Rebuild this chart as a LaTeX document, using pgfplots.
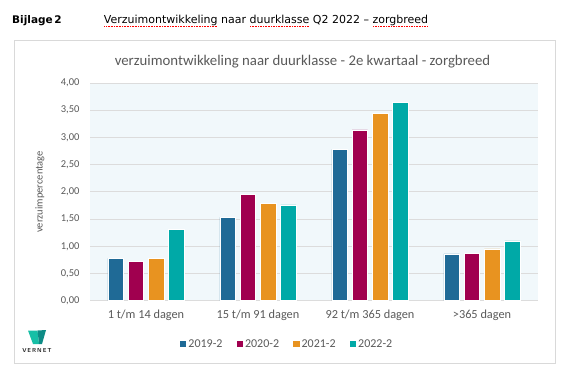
\documentclass[border=0pt]{standalone}
\usepackage{pgfplots}
\pgfplotsset{compat=1.18}
\usepackage{fontspec}
\setmainfont{Carlito}
\newfontfamily\verdana{DejaVu Sans}
\definecolor{cblue}{HTML}{1F6A96}
\definecolor{cpurple}{HTML}{A0004F}
\definecolor{corange}{HTML}{E89320}
\definecolor{cteal}{HTML}{00A9A7}
\definecolor{txtgray}{HTML}{595959}
\definecolor{gridgray}{HTML}{DCDCDC}
\definecolor{bgblue}{HTML}{F1F8FB}
\definecolor{framegray}{HTML}{D9D9D9}
\definecolor{logolight}{HTML}{17BFA6}
\definecolor{logodark}{HTML}{0E8C86}
\newcommand\spell[1]{\setbox0=\hbox{#1}\rlap{\raisebox{-2.8pt}{\color{red}\hbox to \wd0{\xleaders\hbox to 1.6pt{\hss\rule{0.8pt}{0.7pt}\hss}\hfill}}}\box0\relax}
\begin{document}
\begin{tikzpicture}
\path[use as bounding box] (0pt,0pt) rectangle (572pt,367pt);
% header
\node[anchor=base west, inner sep=0pt, font={\verdana\bfseries\fontsize{10.5}{12}\selectfont}] at (12pt,343pt) {Bijlage\,2};
\node[anchor=base west, inner sep=0pt, font={\verdana\fontsize{11}{13}\selectfont}] at (103.7pt,343pt) {\spell{Verzuimontwikkeling} naar \spell{duurklasse} Q2 2022 – \spell{zorgbreed}};
% frame
\draw[framegray, line width=0.8pt] (14.6pt,4pt) rectangle (555pt,327pt);
% title
\node[font={\fontsize{14.8}{16}\selectfont}, text=txtgray] at (302.5pt,305.3pt) {verzuimontwikkeling naar duurklasse - 2e kwartaal - zorgbreed};
% logo
\fill[logolight] (28pt,36.5pt) -- (37.5pt,36.5pt) -- (39pt,23pt) -- (33pt,23pt) -- cycle;
\fill[logodark] (37.5pt,36.5pt) -- (46pt,37pt) -- (42pt,23pt) -- (39pt,23pt) -- cycle;
\node[font={\sffamily\bfseries\fontsize{5.8}{6}\selectfont}, text=black!85, inner sep=0pt] at (37pt,16.5pt) {V\,E\,R\,N\,E\,T};
\begin{axis}[
  at={(90pt,66.3pt)}, anchor=south west,
  scale only axis, width=448pt, height=217.7pt,
  ybar=4.8pt, bar width=15.5pt,
  xmin=-0.5, xmax=3.5, ymin=0, ymax=4,
  xtick=data,
  xticklabels={1 t/m 14 dagen, 15 t/m 91 dagen, 92 t/m 365 dagen, >365 dagen},
  ytick={0,0.5,...,4},
  yticklabel={\pgfmathprintnumber[fixed,fixed zerofill,precision=2,use comma]{\tick}},
  /pgf/number format/assume math mode=true,
  ymajorgrids, major grid style={gridgray, line width=0.9pt},
  axis line style={draw=none},
  major tick length=0pt,
  axis background/.style={fill=bgblue},
  ticklabel style={text=txtgray},
  yticklabel style={font={\fontsize{10.5}{12}\selectfont}, xshift=-7pt},
  xticklabel style={font={\fontsize{12.3}{14}\selectfont}, yshift=-6pt},
  ylabel={verzuimpercentage},
  ylabel style={at={(axis description cs:-0.112,0.5)}, anchor=center, font={\fontsize{10.5}{12}\selectfont}, text=txtgray},
  legend columns=4,
  legend style={at={(axis description cs:0.44,-0.199)}, anchor=center, draw=none, fill=none,
    font={\fontsize{12}{13}\selectfont}, text=txtgray,
    /tikz/every even column/.append style={column sep=12pt}},
  legend image code/.code={\fill[#1,draw=none] (1pt,-3pt) rectangle (7.5pt,3.5pt);},
]
\addplot[fill=cblue, draw=white, line width=0.6pt] coordinates {(0,0.78) (1,1.53) (2,2.78) (3,0.86)};
\addplot[fill=cpurple, draw=white, line width=0.6pt] coordinates {(0,0.72) (1,1.96) (2,3.14) (3,0.87)};
\addplot[fill=corange, draw=white, line width=0.6pt] coordinates {(0,0.78) (1,1.79) (2,3.44) (3,0.95)};
\addplot[fill=cteal, draw=white, line width=0.6pt] coordinates {(0,1.31) (1,1.76) (2,3.64) (3,1.10)};
\legend{2019-2, 2020-2, 2021-2, 2022-2}
\end{axis}
\end{tikzpicture}
\end{document}
